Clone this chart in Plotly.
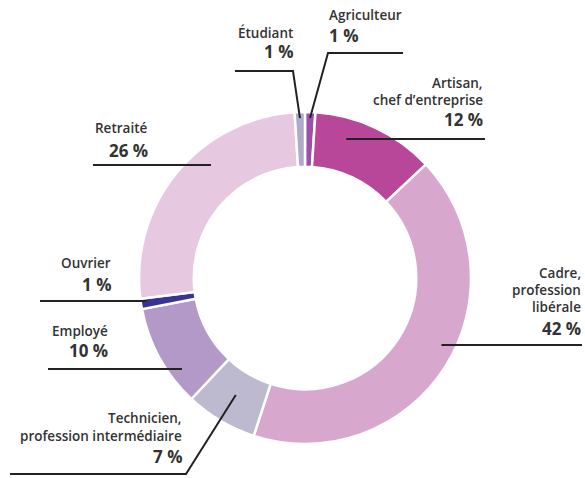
import math
import plotly.graph_objects as go

# ---- data ----
categories = ["Agriculteur", "Artisan, chef d'entreprise", "Cadre, profession libérale",
              "Technicien, profession intermédiaire", "Employé", "Ouvrier", "Retraité", "Étudiant"]
label_lines = [["Agriculteur"], ["Artisan,", "chef d’entreprise"], ["Cadre,", "profession", "libérale"],
               ["Technicien,", "profession intermédiaire"], ["Employé"], ["Ouvrier"], ["Retraité"], ["Étudiant"]]
values = [1, 12, 42, 7, 10, 1, 26, 1]
pct_labels = ["1 %", "12 %", "42 %", "7 %", "10 %", "1 %", "26 %", "1 %"]
colors = ["#9b52a6", "#b8479a", "#d8a7cd", "#bdb9cf", "#b299c7", "#3b3394", "#e6c8e1", "#aeaac9"]

# ---- layout (pixels) ----
W, H = 585, 478
CX, CY, R = 305, 278, 166
HOLE = 0.67
TXT = "#333333"
FONT = "Open Sans"

def px(x):
    return x / W

def py(y):
    return 1 - y / H

# per label: text anchor side, text x, name line ys, pct y, leader definition
label_layout = [
    dict(align="left", x=327, name_y=[15], pct_y=35, leader=("bend", [(403, 53), (328, 53)], 160)),
    dict(align="right", x=485, name_y=[83, 100], pct_y=119, leader=("h", 139, 485, 145)),
    dict(align="right", x=583, name_y=[273, 290, 307], pct_y=328, leader=("h", 345, 582, 152)),
    dict(align="right", x=184, name_y=[418, 436], pct_y=456, leader=("bend", [(10, 474), (186, 474)], 136)),
    dict(align="right", x=110, name_y=[331], pct_y=350, leader=("h", 369, 48, 153)),
    dict(align="right", x=113, name_y=[263], pct_y=284, leader=("h", 301, 40, 160)),
    dict(align="right", x=150, name_y=[128], pct_y=150, leader=("h", 165, 93, 147)),
    dict(align="right", x=295, name_y=[33], pct_y=52, leader=("bend", [(235, 71), (293, 71)], 160)),
]

fig = go.Figure(go.Pie(
    labels=categories, values=values, sort=False, direction="clockwise", rotation=0,
    hole=HOLE, textinfo="none", hoverinfo="label+percent",
    marker=dict(colors=colors, line=dict(color="white", width=2.5)),
    domain=dict(x=[px(CX - R), px(CX + R)], y=[py(CY + R), py(CY - R)]),
    showlegend=False,
))

total = sum(values)
cum = 0
annotations = []
shapes = []
for i, v in enumerate(values):
    mid = (cum + v / 2) / total * 2 * math.pi
    cum += v
    L = label_layout[i]
    anchor = "left" if L["align"] == "left" else "right"
    for line, yy in zip(label_lines[i], L["name_y"]):
        annotations.append(dict(x=px(L["x"]), y=py(yy), xref="paper", yref="paper", text=line,
                                showarrow=False, xanchor=anchor, yanchor="middle",
                                font=dict(family=FONT, size=13.5, color=TXT, weight=600)))
    annotations.append(dict(x=px(L["x"]), y=py(L["pct_y"]), xref="paper", yref="paper", text=pct_labels[i],
                            showarrow=False, xanchor=anchor, yanchor="middle",
                            font=dict(family=FONT, size=17, color=TXT, weight=700)))
    ld = L["leader"]
    if ld[0] == "h":
        _, yy, x0, r = ld
        dy = yy - CY
        dx = math.sqrt(max(r * r - dy * dy, 0))
        side = 1 if math.sin(mid) >= 0 else -1
        x1 = CX + side * dx
        pts = [(x0, yy), (x1, yy)]
    else:
        _, pts0, r = ld
        x1 = CX + r * math.sin(mid)
        y1 = CY - r * math.cos(mid)
        pts = list(pts0) + [(x1, y1)]
    path = "M " + " L ".join(f"{px(a):.5f},{py(b):.5f}" for a, b in pts)
    shapes.append(dict(type="path", path=path, xref="paper", yref="paper",
                       line=dict(color="#222222", width=2)))

fig.update_layout(
    width=W, height=H, margin=dict(l=0, r=0, t=0, b=0),
    paper_bgcolor="white", plot_bgcolor="white",
    annotations=annotations, shapes=shapes,
)
fig.write_html("out.html", config={"displayModeBar": False},
               post_script="document.body.style.margin='0';")
